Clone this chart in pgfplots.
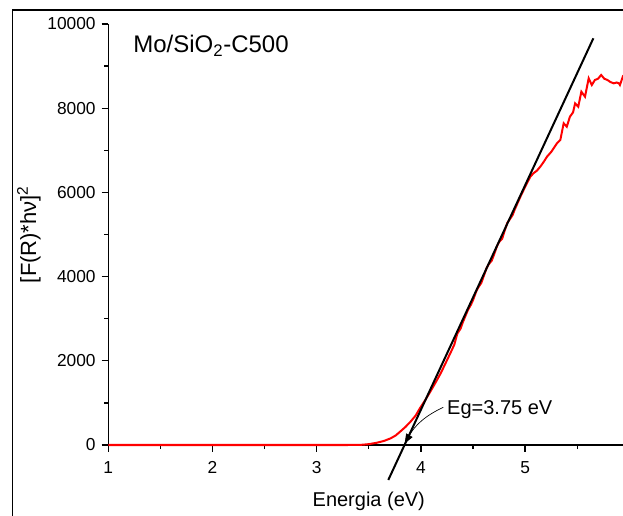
\documentclass[border=0pt]{standalone}
\usepackage{fontspec}
\setmainfont{Liberation Sans}
\usepackage{pgfplots}
\pgfplotsset{compat=1.18}
\usetikzlibrary{arrows.meta}
\begin{document}
\begin{tikzpicture}
\useasboundingbox (-81.225pt,-53.25pt) rectangle (386.025pt,333.75pt);
\draw[line width=1.1pt] (-71.7pt,-60pt) -- (-71.7pt,326.25pt) -- (400pt,326.25pt);
\begin{axis}[
  at={(0pt,0pt)}, anchor=south west,
  scale only axis, width=390.75pt, height=315.75pt,
  xmin=1, xmax=6, ymin=0, ymax=10000,
  axis x line=bottom, axis y line=left,
  axis line style={-, line width=0.95pt},
  xtick={1,2,3,4,5}, minor xtick={1.5,2.5,3.5,4.5,5.5},
  ytick={0,2000,4000,6000,8000,10000}, minor ytick={1000,3000,5000,7000,9000},
  tick align=outside,
  major tick length=5pt, minor tick length=3pt,
  tick style={line width=0.95pt, black},
  ticklabel style={font=\fontsize{13}{15}\selectfont},
  xticklabel style={yshift=-4pt},
  yticklabel style={xshift=-1pt},
  /pgf/number format/assume math mode=true,
  scaled y ticks=false,
  yticklabel style={/pgf/number format/1000 sep={}},
  xlabel={Energia (eV)},
  xlabel style={at={(axis description cs:0.5,-0.1449)}, anchor=base, font=\fontsize{15}{17}\selectfont},
  ylabel={[F(R)*hν]\textsuperscript{2}},
  ylabel style={at={(axis description cs:-0.1523,0.5)}, anchor=center, font=\fontsize{16.5}{18}\selectfont},
  clip=false,
]
\addplot[red, line width=1.5pt, no marks] coordinates {
(1,0) (2,0) (3,0) (3.3,0) (3.42,3) (3.5,20) (3.58,55) (3.65,100) (3.71,159)
(3.76,230) (3.80,316) (3.85,425) (3.90,553) (3.95,700) (3.99,871) (4.04,1060)
(4.09,1266) (4.14,1480) (4.19,1703) (4.24,1960) (4.29,2220) (4.32,2380)
(4.35,2650) (4.38,2760) (4.40,2900) (4.43,3080) (4.45,3200) (4.48,3330)
(4.50,3440) (4.53,3640) (4.55,3740) (4.58,3850) (4.60,3990) (4.63,4200)
(4.65,4290) (4.68,4380) (4.70,4510) (4.73,4720) (4.75,4820) (4.78,4900)
(4.80,5060) (4.83,5280) (4.85,5350) (4.88,5460) (4.90,5590) (4.955,5898)
(5.0,6130) (5.05,6373) (5.08,6454) (5.115,6520) (5.146,6612) (5.18,6730)
(5.21,6848) (5.25,6960) (5.306,7166) (5.338,7245) (5.37,7641) (5.40,7561)
(5.43,7798) (5.46,7900) (5.48,8115) (5.51,8036) (5.54,8392) (5.575,8273)
(5.61,8710) (5.64,8551) (5.67,8670) (5.70,8700) (5.73,8789) (5.76,8700)
(5.79,8670) (5.82,8620) (5.85,8591) (5.88,8610) (5.90,8591) (5.91,8551)
(5.94,8765) (5.96,8800)
};
\addplot[black, line width=1.5pt, no marks] coordinates {(3.687,-831) (5.655,9660)};
\node[anchor=base west, inner sep=0pt, font=\fontsize{18}{20}\selectfont] at (axis cs:1.237,9323) {Mo/SiO\textsubscript{2}-C500};
\node[anchor=base west, inner sep=0pt, font=\fontsize{15}{17}\selectfont] at (axis cs:4.25,736) {Eg=3.75 eV};
\draw[-{Triangle[length=7pt,width=5.5pt]}, line width=0.5pt] (axis cs:4.215,895) to[out=205,in=60] (axis cs:3.845,40);
\end{axis}
\end{tikzpicture}
\end{document}
